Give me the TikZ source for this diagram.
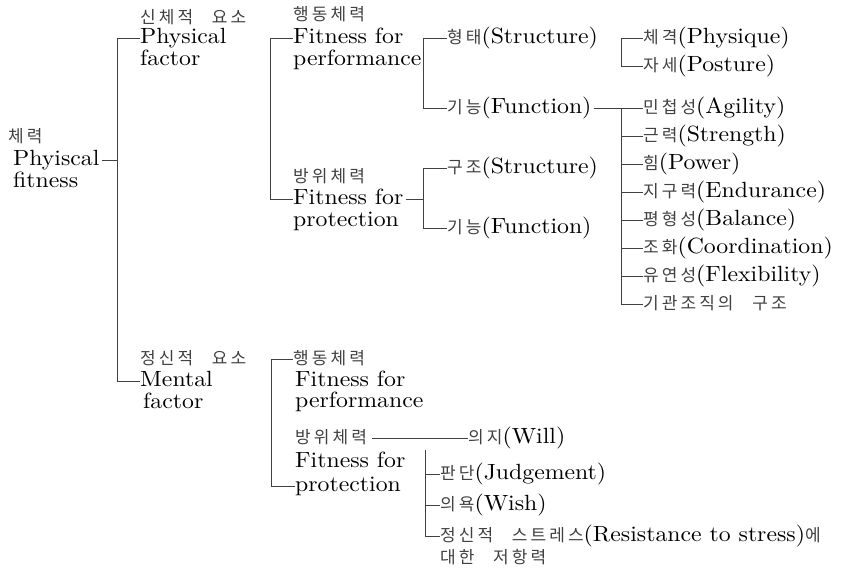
\documentclass[tikz,border=0pt]{standalone}
\usepackage{fontspec}
\setmainfont{lmroman10-regular.otf}[FakeStretch=1.08]
\usetikzlibrary{positioning}
\newfontfamily\krfont[LetterSpace=18]{Noto Sans CJK KR}
\newcommand{\ko}[1]{{\krfont\fontsize{17}{17}\selectfont\color{black!75}#1}}
\newcommand{\ksp}{\hspace{1.1em}}

\begin{document}
\begin{tikzpicture}[x=1pt, y=-1pt,
    lat/.style={anchor=west, inner sep=0pt, text height=15pt, text depth=5pt, font=\fontsize{22}{22}\selectfont},
    kor/.style={anchor=west, inner sep=0pt, text height=15pt, text depth=5pt, text=black!75, font=\krfont\fontsize{17}{17}\selectfont},
    link/.style={line width=0.7pt, black!75}]
    \useasboundingbox (0,0) rectangle (847,576);

    % root
    \node[kor] (fitk) at (8,137) {체력};
    \node[lat] (fit) at (13,160) {Phyiscal};
    \node[lat] (fitb) at (13,182) {fitness};

    % physical and mental factor
    \node[kor] (physk) at (140,18) {신체적\ksp 요소};
    \node[lat] (phys) at (140,38) {Physical};
    \node[lat] (physb) at (140,60) {factor};
    \node[kor] (mentk) at (140,359) {정신적\ksp 요소};
    \node[lat] (ment) at (140,381) {Mental};
    \node[lat] (mentb) at (143,403) {factor};

    \draw[link] (phys.west) -- ++(-23,0) coordinate (v0) |- (ment.west);
    \draw[link] ([xshift=2pt]fit.east) -- (fit.east -| v0);

    % physical: performance and protection
    \node[kor] (perfk) at (293,15) {행동체력};
    \node[lat] (perf) at (293,38) {Fitness for};
    \node[lat] (perfb) at (293,60) {performance};
    \node[kor] (protk) at (293,177) {방위체력};
    \node[lat] (prot) at (293,199) {Fitness for};
    \node[lat] (protb) at (293,221) {protection};

    \draw[link] (perf.west) -- ++(-23,0) |- (prot.west);

    % structure and function
    \node[lat] (form) at (447,38) {\ko{형태}(Structure)};
    \node[lat] (func) at (447,108) {\ko{기능}(Function)};
    \node[lat] (struc) at (447,168) {\ko{구조}(Structure)};
    \node[lat] (func2) at (447,228) {\ko{기능}(Function)};

    \draw[link] (form.west) -- ++(-24,0) |- (func.west);
    \draw[link] (struc.west) -- ++(-24,0) coordinate (v2) |- (func2.west);
    \draw[link] ([xshift=2pt]prot.east) -- (prot.east -| v2);

    % elements
    \node[lat] (phy) at (643,38) {\ko{체격}(Physique)};
    \node[lat] (post) at (643,66) {\ko{자세}(Posture)};
    \node[lat] (agil) at (643,108) {\ko{민첩성}(Agility)};
    \node[lat] (stre) at (643,136) {\ko{근력}(Strength)};
    \node[lat] (powe) at (643,164) {\ko{힘}(Power)};
    \node[lat] (endu) at (643,192) {\ko{지구력}(Endurance)};
    \node[lat] (bala) at (643,220) {\ko{평형성}(Balance)};
    \node[lat] (coor) at (643,248) {\ko{조화}(Coordination)};
    \node[lat] (flex) at (643,276) {\ko{유연성}(Flexibility)};
    \node[kor] (organ) at (643,304) {기관조직의\ksp 구조};

    \draw[link] (phy.west) -- ++(-22,0) |- (post.west);
    \draw[link] (agil.west) -- ++(-22,0) coordinate (v4) |- (organ.west);
    \foreach \n in {stre,powe,endu,bala,coor,flex}
        \draw[link] (\n.west) -- (\n.west -| v4);
    \draw[link] ([xshift=2pt]func.east) -- (agil.west);

    % mental: performance and protection
    \node[kor] (mperf) at (293,359) {행동체력};
    \node[lat] (mperfb) at (295,381) {Fitness for};
    \node[lat] (mperfc) at (295,402) {performance};
    \node[kor] (mprotk) at (295,438) {방위체력};
    \node[lat] (mprotb) at (295,462) {Fitness for};
    \node[lat] (mprot) at (295,486) {protection};

    \draw[link] (mperf.west) -- ++(-22,0) |- (mprot.west);

    % mental elements
    \node[lat] (will) at (468,438) {\ko{의지}(Will)};
    \node[lat] (judg) at (440,474) {\ko{판단}(Judgement)};
    \node[lat] (wish) at (440,505) {\ko{의욕}(Wish)};
    \node[lat] (resi) at (440,536) {\ko{정신적\ksp 스트레스}(Resistance to stress)\ko{에}};
    \node[kor] (resib) at (440,558) {대한\ksp 저항력};

    \draw[link] ([xshift=5pt]mprotk.east) -- (will.west);
    \coordinate (v5) at (425,450);
    \draw[link] (v5) |- (resi.west);
    \foreach \n in {judg,wish}
        \draw[link] (\n.west) -- (\n.west -| v5);
\end{tikzpicture}
\end{document}
